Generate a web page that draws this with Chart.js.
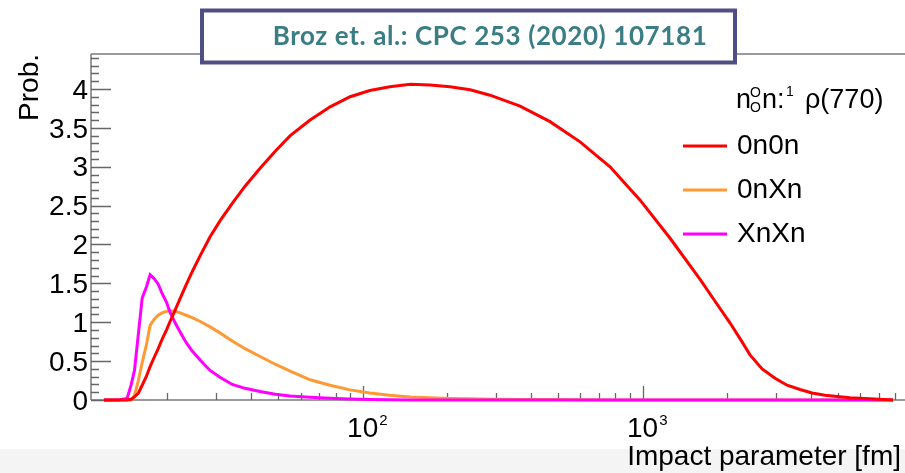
<!DOCTYPE html>
<html><head><meta charset="utf-8">
<script src="https://cdn.jsdelivr.net/npm/chart.js@4"></script>
<style>html,body{margin:0;padding:0;background:#fff;overflow:hidden}canvas{display:block}</style>
</head><body><canvas id="c" width="905" height="473"></canvas>
<script>
// ---- data ----
const impactParam = [11.9, 13.4, 14.4, 14.9, 15.3, 15.8, 16.3, 16.9, 17.4, 18.0, 18.6, 19.2, 19.9, 20.5, 21.4, 22.3, 23.4, 24.6, 26.3, 28.5, 31.0, 34.2, 38.0, 43.0, 48.7, 55.1, 64.9, 76.5, 90.2, 106, 125, 148, 174, 205, 242, 285, 365, 467, 598, 765, 980, 1254, 1605, 1815, 2054, 2229, 2420, 2673, 2973, 3282, 3652, 4031, 4485, 5510, 6494, 7848];
const prob0n0n = [0, 0, 0, 0.01, 0.04, 0.09, 0.19, 0.31, 0.43, 0.55, 0.66, 0.78, 0.90, 1.01, 1.16, 1.31, 1.48, 1.65, 1.86, 2.10, 2.31, 2.53, 2.75, 2.98, 3.20, 3.40, 3.60, 3.77, 3.90, 3.98, 4.03, 4.06, 4.05, 4.03, 3.99, 3.92, 3.78, 3.58, 3.32, 3.00, 2.57, 2.08, 1.55, 1.27, 0.99, 0.79, 0.58, 0.40, 0.28, 0.19, 0.135, 0.09, 0.06, 0.03, 0.015, 0];
const prob0nXn = [0, 0, 0, 0.0, 0.06, 0.25, 0.48, 0.72, 0.96, 1.04, 1.09, 1.12, 1.14, 1.15, 1.14, 1.12, 1.09, 1.06, 1.01, 0.94, 0.86, 0.76, 0.66, 0.56, 0.46, 0.37, 0.26, 0.19, 0.13, 0.09, 0.06, 0.04, 0.03, 0.02, 0.015, 0.01, 0.008, 0.005, 0.003, 0, 0, 0, 0, 0, 0, 0, 0, 0, 0, 0, 0, 0, 0, 0, 0, 0];
const probXnXn = [0, 0, 0.02, 0.2, 0.38, 0.85, 1.31, 1.46, 1.61, 1.56, 1.49, 1.37, 1.26, 1.13, 0.99, 0.87, 0.74, 0.63, 0.51, 0.38, 0.29, 0.20, 0.15, 0.11, 0.075, 0.05, 0.035, 0.022, 0.013, 0.006, 0.003, 0, 0, 0, 0, 0, 0, 0, 0, 0, 0, 0, 0, 0, 0, 0, 0, 0, 0, 0, 0, 0, 0, 0, 0, 0];
const seriesNames = ['0n0n', '0nXn', 'XnXn'];
const seriesColors = ['#ff0000', '#ff9933', '#ff00ff'];
const yTickValues = [0, 0.5, 1, 1.5, 2, 2.5, 3, 3.5, 4];
const yTickLabels = ['0', '0.5', '1', '1.5', '2', '2.5', '3', '3.5', '4'];
const xLabelValues = [100, 1000];
const xLabelExponents = ['2', '3'];
const xTitle = 'Impact parameter [fm]';
const yTitle = 'Prob.';
const boxTitle = 'Broz et. al.: CPC 253 (2020) 107181';

const FONT = '"Liberation Sans", Arial, Helvetica, sans-serif';
const AXIS = '#7a7a7a';

function pts(vals){ return impactParam.map((b, i) => ({x: b, y: vals[i]})); }

const rootStyle = {
  id: 'rootStyle',
  beforeDraw(chart){
    const ctx = chart.ctx;
    ctx.save();
    ctx.fillStyle = '#ffffff';
    ctx.fillRect(0, 0, chart.width, chart.height);
    ctx.fillStyle = '#f4f4f4';
    ctx.fillRect(0, 449, chart.width, chart.height - 449);
    ctx.restore();
  },
  beforeDatasetsDraw(chart){
    const {ctx, chartArea: a, scales: {x, y}} = chart;
    ctx.save();
    ctx.strokeStyle = AXIS; ctx.lineWidth = 1.5;
    ctx.beginPath();
    ctx.moveTo(a.left, a.top); ctx.lineTo(a.right, a.top);
    ctx.moveTo(a.left, a.top); ctx.lineTo(a.left, a.bottom);
    ctx.moveTo(a.left, a.bottom); ctx.lineTo(a.right, a.bottom);
    ctx.stroke();
    ctx.lineWidth = 1.3; ctx.strokeStyle = '#666';
    ctx.beginPath();
    for (let k = 0; k <= 44; k++){
      const v = k / 10;
      const py = Math.round(y.getPixelForValue(v)) + 0.5;
      const major = k % 5 === 0;
      ctx.moveTo(a.left, py); ctx.lineTo(a.left + (major ? 20 : 8), py);
    }
    for (let dec = 10; dec <= 10000; dec *= 10){
      for (let m = 1; m <= 9; m++){
        const v = dec * m;
        if (v < x.min || v > x.max) continue;
        const px = Math.round(x.getPixelForValue(v)) + 0.5;
        const major = m === 1;
        ctx.moveTo(px, a.bottom); ctx.lineTo(px, a.bottom - (major ? 14 : 7));
      }
    }
    ctx.stroke();
    ctx.restore();
  },
  afterDraw(chart){
    const {ctx, chartArea: a, scales: {x, y}} = chart;
    ctx.save();
    ctx.fillStyle = '#000';
    ctx.font = '28px ' + FONT;
    ctx.textAlign = 'right'; ctx.textBaseline = 'middle';
    yTickValues.forEach((v, i) => {
      ctx.fillText(yTickLabels[i], a.left - 3, y.getPixelForValue(v) + 2);
    });
    xLabelValues.forEach((v, i) => {
      const px = x.getPixelForValue(v);
      ctx.font = '28px ' + FONT;
      ctx.textAlign = 'center'; ctx.textBaseline = 'alphabetic';
      const w = ctx.measureText('10').width;
      ctx.fillText('10', px, 437);
      ctx.font = '15px ' + FONT;
      ctx.textAlign = 'left';
      ctx.fillText(xLabelExponents[i], px + w / 2 + 1, 425);
    });
    ctx.font = '28px ' + FONT;
    ctx.textAlign = 'right'; ctx.textBaseline = 'alphabetic';
    ctx.fillText(xTitle, 901, 465);
    ctx.save();
    ctx.translate(38, a.top);
    ctx.rotate(-Math.PI / 2);
    ctx.textAlign = 'right';
    ctx.fillText(yTitle, 0, 0);
    ctx.restore();
    // legend header  n_O^O n:^1 rho(770)
    ctx.textAlign = 'left'; ctx.textBaseline = 'alphabetic';
    ctx.font = '27px ' + FONT;
    ctx.fillText('n', 736, 108);
    ctx.font = '14px ' + FONT;
    ctx.fillText('O', 750, 97);
    ctx.fillText('O', 750, 112);
    ctx.font = '27px ' + FONT;
    ctx.fillText('n:', 762, 108);
    ctx.font = '14px ' + FONT;
    ctx.fillText('1', 786, 96);
    ctx.font = '27px ' + FONT;
    ctx.fillText('\u03c1(770)', 805, 108);
    const ly = [146, 190, 234];
    chart.data.datasets.forEach((ds, i) => {
      ctx.strokeStyle = ds.borderColor; ctx.lineWidth = 3;
      ctx.beginPath(); ctx.moveTo(683, ly[i]); ctx.lineTo(727, ly[i]); ctx.stroke();
      ctx.fillStyle = '#000';
      ctx.font = '28px ' + FONT;
      ctx.fillText(ds.label, 737, ly[i] + 7.5);
    });
    // title box
    ctx.fillStyle = '#ffffff';
    ctx.fillRect(202, 10.5, 533, 52);
    ctx.strokeStyle = '#4f4f86'; ctx.lineWidth = 4;
    ctx.strokeRect(202, 10.5, 533, 52);
    ctx.fillStyle = '#3b7d84';
    ctx.font = 'bold 26px Lato, "Open Sans", sans-serif';
    ctx.letterSpacing = '0.6px';
    ctx.textAlign = 'center';
    ctx.fillText(boxTitle, 490, 45);
    ctx.restore();
  }
};

new Chart(document.getElementById('c'), {
  type: 'line',
  data: {
    datasets: [
      {label: seriesNames[0], data: pts(prob0n0n), borderColor: seriesColors[0], borderWidth: 3, pointRadius: 0, tension: 0, order: 0, clip: false},
      {label: seriesNames[1], data: pts(prob0nXn), borderColor: seriesColors[1], borderWidth: 3, pointRadius: 0, tension: 0, order: 2, clip: false},
      {label: seriesNames[2], data: pts(probXnXn), borderColor: seriesColors[2], borderWidth: 3, pointRadius: 0, tension: 0, order: 1, clip: false}
    ]
  },
  options: {
    responsive: false,
    animation: false,
    layout: {padding: {left: 0, right: 0, top: 54, bottom: 0}},
    plugins: {legend: {display: false}, tooltip: {enabled: false}, title: {display: false}},
    scales: {
      x: {type: 'logarithmic', min: 10.7, max: 8660, grid: {display: false}, border: {display: false},
          ticks: {display: false}, afterFit(s){ s.height = 73; }},
      y: {type: 'linear', min: 0, max: 4.45, grid: {display: false}, border: {display: false},
          ticks: {display: false}, afterFit(s){ s.width = 91; }}
    }
  },
  plugins: [rootStyle]
});
</script>
</body></html>
